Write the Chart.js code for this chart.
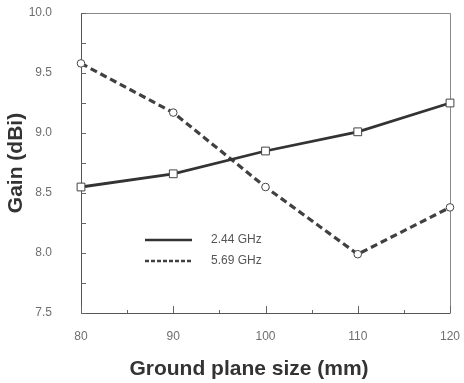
<!DOCTYPE html>
<html>
<head>
<meta charset="utf-8">
<script src="https://cdn.jsdelivr.net/npm/chart.js@4"></script>
<style>
  html, body { margin: 0; padding: 0; background: #fff; }
  #wrap { width: 464px; height: 383px; }
</style>
</head>
<body>
<div id="wrap"><canvas id="gainChart" width="464" height="383"></canvas></div>
<script>
// values
const groundSizes = [80, 90, 100, 110, 120];
const gain244 = [8.55, 8.66, 8.85, 9.01, 9.25];
const gain569 = [9.58, 9.17, 8.55, 7.99, 8.38];
const seriesNames = ['2.44 GHz', '5.69 GHz'];
const yLabels = ['7.5', '8.0', '8.5', '9.0', '9.5', '10.0'];
const xTitle = 'Ground plane size (mm)';
const yTitle = 'Gain (dBi)';

const FONT = '"Liberation Sans", Arial, sans-serif';

// frame, inward ticks, legend and axis titles
const decorations = {
    id: 'decorations',
    beforeDatasetsDraw(chart) {
        const { ctx, chartArea: a, scales } = chart;
        ctx.save();
        ctx.lineWidth = 1;
        ctx.strokeStyle = '#888';
        ctx.beginPath();
        ctx.moveTo(a.left, a.top + 0.5);
        ctx.lineTo(a.right + 0.5, a.top + 0.5);
        ctx.lineTo(a.right + 0.5, a.bottom);
        ctx.stroke();
        ctx.strokeStyle = '#555';
        ctx.beginPath();
        ctx.moveTo(a.left + 0.5, a.top);
        ctx.lineTo(a.left + 0.5, a.bottom + 0.5);
        ctx.lineTo(a.right + 0.5, a.bottom + 0.5);
        ctx.stroke();

        ctx.strokeStyle = '#666';
        ctx.beginPath();
        scales.y.ticks.forEach(t => {
            const py = Math.round(scales.y.getPixelForValue(t.value)) + 0.5;
            ctx.moveTo(a.left, py);
            ctx.lineTo(a.left + 5, py);
        });
        scales.x.ticks.forEach(t => {
            const px = Math.round(scales.x.getPixelForValue(t.value)) + 0.5;
            const len = t.value % 10 === 0 ? 7 : 3;
            ctx.moveTo(px, a.bottom);
            ctx.lineTo(px, a.bottom - len);
        });
        ctx.stroke();
        ctx.restore();
    },
    afterDraw(chart) {
        const { ctx, chartArea: a } = chart;
        ctx.save();
        // legend inside plot
        chart.data.datasets.forEach((ds, i) => {
            const y = 240 + i * 21;
            ctx.strokeStyle = ds.borderColor;
            ctx.lineWidth = 2.4;
            ctx.setLineDash(ds.borderDash && ds.borderDash.length ? [4, 2] : []);
            ctx.beginPath();
            ctx.moveTo(145, y);
            ctx.lineTo(192, y);
            ctx.stroke();
            ctx.setLineDash([]);
            ctx.fillStyle = '#555';
            ctx.font = '12px ' + FONT;
            ctx.textBaseline = 'middle';
            ctx.textAlign = 'left';
            ctx.fillText(ds.label, 211, y);
        });
        // axis titles
        ctx.fillStyle = '#333';
        ctx.font = 'bold 21px ' + FONT;
        ctx.textAlign = 'center';
        ctx.textBaseline = 'middle';
        ctx.fillText(xTitle, 249, 369);
        ctx.translate(16, (a.top + a.bottom) / 2);
        ctx.rotate(-Math.PI / 2);
        ctx.fillText(yTitle, 0, 0);
        ctx.restore();
    }
};

const toPoints = vals => groundSizes.map((s, i) => ({ x: s, y: vals[i] }));

// fixed box sizes, no automatic label padding
const noPad = s => { s.paddingTop = 0; s.paddingBottom = 0; s.paddingLeft = 0; s.paddingRight = 0; };

new Chart(document.getElementById('gainChart'), {
    type: 'line',
    data: {
        datasets: [{
            label: seriesNames[0],
            data: toPoints(gain244),
            borderColor: '#333',
            borderWidth: 2.8,
            pointStyle: 'rect',
            pointRadius: 5.5,
            pointBackgroundColor: '#fff',
            pointBorderColor: '#444',
            pointBorderWidth: 1,
            tension: 0,
            clip: false
        }, {
            label: seriesNames[1],
            data: toPoints(gain569),
            borderColor: '#404040',
            borderWidth: 3.2,
            borderDash: [7, 4],
            pointStyle: 'circle',
            pointRadius: 3.8,
            pointBackgroundColor: '#fff',
            pointBorderColor: '#444',
            pointBorderWidth: 1,
            tension: 0,
            clip: false
        }]
    },
    options: {
        responsive: false,
        animation: false,
        layout: { autoPadding: false, padding: { top: 13, right: 14, left: 0, bottom: 0 } },
        plugins: { legend: { display: false }, tooltip: { enabled: false } },
        scales: {
            x: {
                type: 'linear',
                min: 80,
                max: 120,
                grid: { display: false, drawTicks: false },
                border: { display: false },
                ticks: {
                    stepSize: 5,
                    autoSkip: false,
                    maxRotation: 0,
                    padding: 16,
                    color: '#6e6e6e',
                    font: { family: FONT, size: 12 },
                    callback: v => (v % 10 === 0 ? String(v) : '')
                },
                afterFit: s => { s.height = 70; noPad(s); }
            },
            y: {
                min: 7.5,
                max: 10,
                grid: { display: false, drawTicks: false },
                border: { display: false },
                ticks: {
                    stepSize: 0.25,
                    autoSkip: false,
                    padding: 29,
                    color: '#6e6e6e',
                    font: { family: FONT, size: 12 },
                    callback: v => {
                        const lbl = v.toFixed(1);
                        return Math.abs(v * 2 - Math.round(v * 2)) < 1e-6 && yLabels.includes(lbl) ? lbl : '';
                    }
                },
                afterFit: s => { s.width = 81; noPad(s); }
            }
        }
    },
    plugins: [decorations]
});
</script>
</body>
</html>
